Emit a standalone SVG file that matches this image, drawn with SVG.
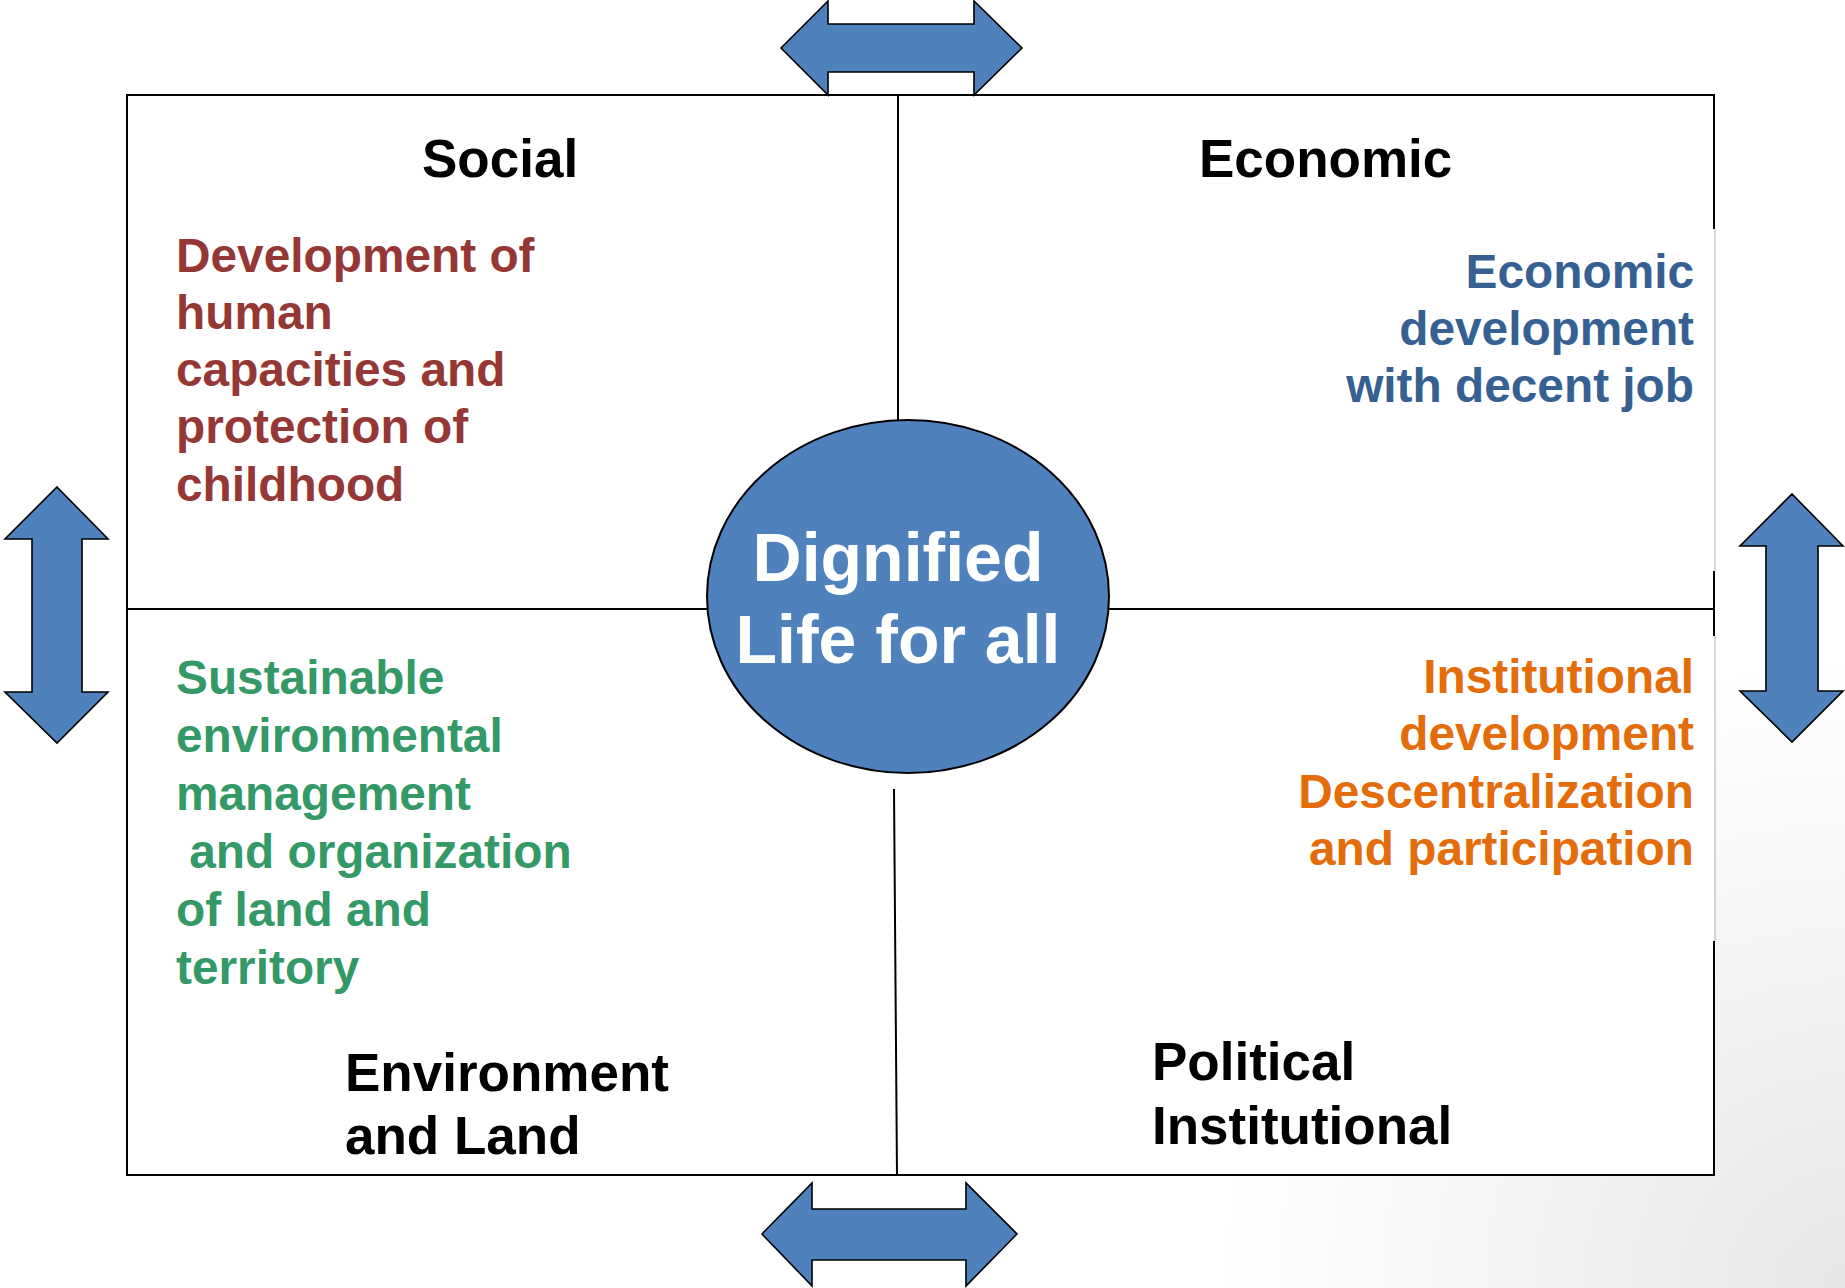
<svg xmlns="http://www.w3.org/2000/svg" width="1845" height="1288" viewBox="0 0 1845 1288">
<defs>
<radialGradient id="bg" gradientUnits="userSpaceOnUse" cx="1845" cy="1288" r="620">
<stop offset="0" stop-color="#e6e6e6"/>
<stop offset="0.5" stop-color="#f3f3f3"/>
<stop offset="1" stop-color="#ffffff"/>
</radialGradient>
<style>
text{font-family:"Liberation Sans",Arial,sans-serif;font-weight:bold;}
.head{font-size:53px;fill:#000;}
.body{font-size:47.8px;}
.red{fill:#953735;}
.blue{fill:#376092;text-anchor:end;}
.orange{fill:#E46C0A;text-anchor:end;}
.green{fill:#339966;}
.line{stroke:#000;stroke-width:2;fill:none;}
.gray{stroke:#bdbdbd;stroke-width:1.2;fill:none;}
.arrow{fill:#4F81BD;stroke:#000;stroke-width:1.6;stroke-linejoin:miter;}
</style>
</defs>
<rect x="0" y="0" width="1845" height="1288" fill="url(#bg)"/>
<g id="frame">
<rect x="127" y="95" width="1587" height="1080" fill="#ffffff" stroke="none"/>
<polyline class="line" points="1714,229 1714,95 127,95 127,1175 1714,1175 1714,941"/>
<line class="line" x1="1714" y1="571" x2="1714" y2="636"/>
<line class="gray" x1="1715" y1="229" x2="1715" y2="571"/>
<line class="gray" x1="1715" y1="636" x2="1715" y2="941"/>
<line class="line" x1="898" y1="95" x2="898" y2="420"/>
<line class="line" x1="894" y1="789" x2="897" y2="1175"/>
<line class="line" x1="127" y1="609" x2="707" y2="609"/>
<line class="line" x1="1109" y1="609" x2="1714" y2="609"/>
</g>
<g id="center">
<ellipse cx="908" cy="596.5" rx="201" ry="176.5" fill="#4F81BD" stroke="#000" stroke-width="2"/>
<text x="898" y="581" font-size="68" fill="#ffffff" text-anchor="middle">Dignified</text>
<text x="898" y="663" font-size="68" fill="#ffffff" text-anchor="middle">Life for all</text>
</g>
<g id="social">
<text class="head" x="422" y="177">Social</text>
<text class="body red" x="176" y="272">Development of</text>
<text class="body red" x="176" y="329">human</text>
<text class="body red" x="176" y="386">capacities and</text>
<text class="body red" x="176" y="443">protection of</text>
<text class="body red" x="176" y="501">childhood</text>
</g>
<g id="economic">
<text class="head" x="1199" y="177">Economic</text>
<text class="body blue" x="1694" y="288">Economic</text>
<text class="body blue" x="1694" y="345">development</text>
<text class="body blue" x="1694" y="402">with decent job</text>
</g>
<g id="environment">
<text class="body green" x="176" y="694">Sustainable</text>
<text class="body green" x="176" y="752">environmental</text>
<text class="body green" x="176" y="810">management</text>
<text class="body green" x="176" y="868" style="white-space:pre"> and organization</text>
<text class="body green" x="176" y="926">of land and</text>
<text class="body green" x="176" y="984">territory</text>
<text class="head" x="345" y="1091">Environment</text>
<text class="head" x="345" y="1154">and Land</text>
</g>
<g id="political">
<text class="body orange" x="1694" y="693">Institutional</text>
<text class="body orange" x="1694" y="750">development</text>
<text class="body orange" x="1694" y="808">Descentralization</text>
<text class="body orange" x="1694" y="865">and participation</text>
<text class="head" x="1152" y="1080">Political</text>
<text class="head" x="1152" y="1144">Institutional</text>
</g>
<g id="connectors">
<polygon class="arrow" points="781,48 828,1 828,24 974,24 974,1 1022,48 974,95 974,72 828,72 828,95"/>
<polygon class="arrow" points="762,1234 812,1183 812,1209 966,1209 966,1183 1017,1234 966,1286 966,1260 812,1260 812,1286"/>
<polygon class="arrow" points="57,487 108,539 82,539 82,692 108,692 57,743 5,692 32,692 32,539 5,539"/>
<polygon class="arrow" points="1792,494 1843,546 1818,546 1818,691 1843,691 1792,742 1740,691 1766,691 1766,546 1740,546"/>
</g>
</svg>
